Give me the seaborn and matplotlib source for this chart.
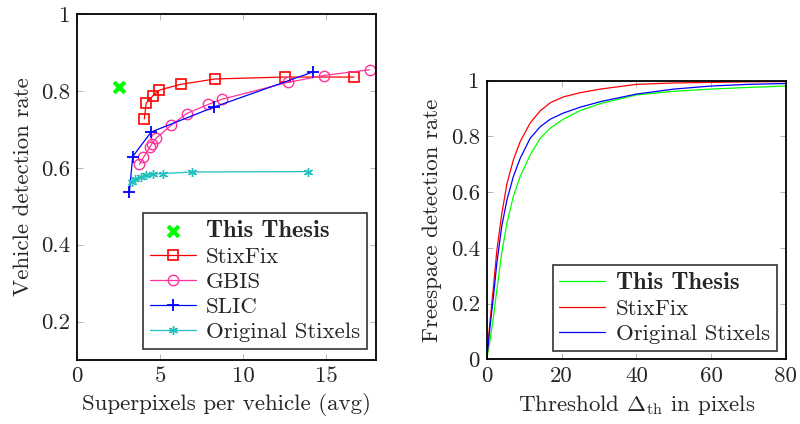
import matplotlib
matplotlib.use("Agg")
import matplotlib.pyplot as plt
import seaborn as sns
import pandas as pd
from matplotlib.font_manager import FontProperties

sns.set_theme(style="white")
plt.rcParams["font.family"] = ["cmr10", "DejaVu Serif"]
plt.rcParams["mathtext.fontset"] = "cm"
plt.rcParams["axes.unicode_minus"] = False

# ---------------- Left chart data ----------------
thesis_x = [2.5]
thesis_y = [0.81]

stixfix_x = [4.05, 4.16, 4.56, 4.96, 6.24, 8.31, 12.49, 16.66]
stixfix_y = [0.727, 0.768, 0.787, 0.802, 0.817, 0.831, 0.836, 0.836]

gbis_x = [3.76, 4.0, 4.40, 4.5, 4.76, 5.68, 6.6, 7.91, 8.71, 12.67, 14.84, 17.6]
gbis_y = [0.609, 0.627, 0.655, 0.662, 0.677, 0.711, 0.741, 0.765, 0.778, 0.822, 0.840, 0.855]

slic_x = [3.15, 3.35, 4.46, 8.25, 14.18]
slic_y = [0.536, 0.629, 0.693, 0.758, 0.849]

orig_x = [3.3, 3.5, 3.86, 4.16, 4.6, 5.2, 6.93, 13.92]
orig_y = [0.562, 0.572, 0.577, 0.580, 0.583, 0.585, 0.589, 0.590]

left_xticks = [0, 5, 10, 15]
left_yticks = [0.2, 0.4, 0.6, 0.8, 1.0]
left_yticklabels = ["0.2", "0.4", "0.6", "0.8", "1"]

# ---------------- Right chart data ----------------
threshold = [0, 0.9, 1.8, 2.7, 4.0, 5.4, 7.1, 8.9, 11.6, 14.3, 17.0, 20.5, 25, 30.4, 40, 50, 60, 70, 80]
fs_stixfix = [0, 0.14, 0.26, 0.39, 0.52, 0.63, 0.715, 0.78, 0.848, 0.892, 0.921, 0.942, 0.957, 0.970, 0.987, 0.992, 0.994, 0.996, 0.997]
fs_orig = [0, 0.12, 0.225, 0.345, 0.476, 0.572, 0.655, 0.72, 0.793, 0.835, 0.862, 0.884, 0.905, 0.925, 0.952, 0.970, 0.981, 0.987, 0.990]
fs_thesis = [0, 0.07, 0.153, 0.249, 0.38, 0.488, 0.584, 0.655, 0.733, 0.793, 0.830, 0.862, 0.893, 0.918, 0.949, 0.962, 0.970, 0.976, 0.981]

right_xticks = [0, 20, 40, 60, 80]
right_yticks = [0, 0.2, 0.4, 0.6, 0.8, 1.0]
right_yticklabels = ["0", "0.2", "0.4", "0.6", "0.8", "1"]

FS = 16.5
GREEN = "#00ff00"
RED = "#ff0000"
PINK = "#ff3399"
BLUE = "#0000ff"
CYAN = "#22bfbf"

fig = plt.figure(figsize=(8, 4.24), dpi=100)
axL = fig.add_axes([0.09625, 0.151, 0.374, 0.816])
axR = fig.add_axes([0.6084, 0.1526, 0.374, 0.657])

lw = 0.9
sns.scatterplot(x=thesis_x, y=thesis_y, ax=axL, marker="x", color=GREEN, s=60,
                linewidth=3, label="This Thesis", zorder=5)
sns.lineplot(x=stixfix_x, y=stixfix_y, ax=axL, color=RED, marker="s", mfc="none",
             mec=RED, ms=7.5, mew=1.2, lw=lw, sort=False, estimator=None, label="StixFix")
sns.lineplot(x=gbis_x, y=gbis_y, ax=axL, color=PINK, marker="o", mfc="none",
             mec=PINK, ms=7.5, mew=1.0, lw=lw, sort=False, estimator=None, label="GBIS")
sns.lineplot(x=slic_x, y=slic_y, ax=axL, color=BLUE, marker="+", mec=BLUE,
             ms=9, mew=1.3, lw=lw, sort=False, estimator=None, label="SLIC")
sns.lineplot(x=orig_x, y=orig_y, ax=axL, color=CYAN, marker=(6, 2, 0), mec=CYAN,
             ms=6.5, mew=1.0, lw=lw, sort=False, estimator=None, label="Original Stixels")

axL.set_xlim(0, 18)
axL.set_ylim(0.1, 1.0)
axL.set_xticks(left_xticks)
axL.set_xticklabels([str(t) for t in left_xticks])
axL.set_yticks(left_yticks)
axL.set_yticklabels(left_yticklabels)
axL.set_xlabel("Superpixels per vehicle (avg)", fontsize=FS, labelpad=5)
axL.set_ylabel("Vehicle detection rate", fontsize=FS, labelpad=6)

sns.lineplot(x=threshold, y=fs_thesis, ax=axR, color=GREEN, lw=lw, label="This Thesis")
sns.lineplot(x=threshold, y=fs_stixfix, ax=axR, color=RED, lw=lw, label="StixFix")
sns.lineplot(x=threshold, y=fs_orig, ax=axR, color=BLUE, lw=lw, label="Original Stixels")
axR.set_xlim(0, 80)
axR.set_ylim(0, 1.0)
axR.set_xticks(right_xticks)
axR.set_xticklabels([str(t) for t in right_xticks])
axR.set_yticks(right_yticks)
axR.set_yticklabels(right_yticklabels)
axR.set_xlabel(r"Threshold $\Delta_{\rm th}$ in pixels", fontsize=FS, labelpad=5)
axR.set_ylabel("Freespace detection rate", fontsize=FS, labelpad=6)

for ax in (axL, axR):
    for sp in ax.spines.values():
        sp.set_visible(True)
        sp.set_color("black")
        sp.set_linewidth(1.3)
    ax.tick_params(direction="in", length=4, width=0.6, color="#aaaaaa",
                   top=True, right=True, bottom=True, left=True,
                   labelsize=FS, pad=5)
    ax.grid(False)

boldfp = FontProperties(family="cmb10", size=FS + 1.2)
legL = axL.legend(loc="lower right", bbox_to_anchor=(0.97, 0.032), borderaxespad=0,
                  fontsize=FS, frameon=True, fancybox=False, edgecolor="black",
                  handlelength=2.0, labelspacing=0.22, borderpad=0.3, handletextpad=0.45)
legL.get_frame().set_linewidth(1.2)
legL.get_texts()[0].set_fontproperties(boldfp)

legR = axR.legend(loc="lower right", bbox_to_anchor=(0.969, 0.031), borderaxespad=0,
                  fontsize=FS, frameon=True, fancybox=False, edgecolor="black",
                  handlelength=2.0, labelspacing=0.22, borderpad=0.3, handletextpad=0.45)
legR.get_frame().set_linewidth(1.2)
legR.get_texts()[0].set_fontproperties(boldfp)

fig.savefig("out.png", dpi=100)
